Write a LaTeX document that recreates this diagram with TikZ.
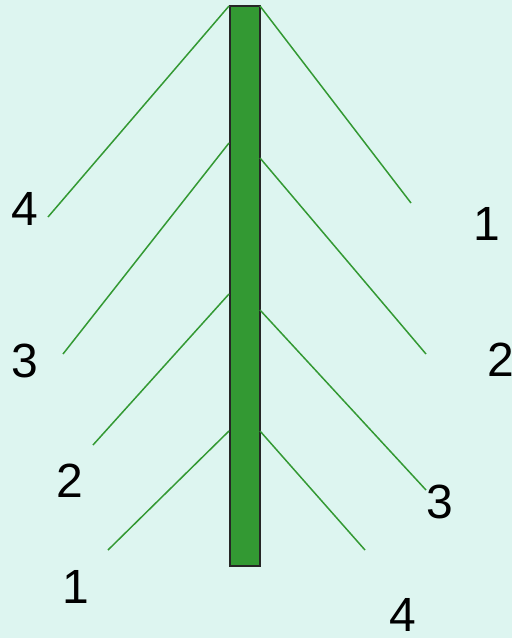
\documentclass[tikz,border=0pt]{standalone}
\usepackage{fontspec}
\setmainfont{Liberation Sans}
\definecolor{bgc}{HTML}{DDF5F0}
\definecolor{grn}{HTML}{339933}
\tikzset{
  branch/.style={draw=grn, line width=1.5pt},
  num/.style={inner sep=0pt, font=\fontsize{48}{48}\selectfont, text=black},
}
\begin{document}
\begin{tikzpicture}[x=1pt,y=-1pt]
\fill[bgc] (0,0) rectangle (512,638);
\useasboundingbox (0,0) rectangle (512,638);
% trunk
\node[draw=black!85, line width=2pt, fill=grn, minimum width=30pt, minimum height=560pt, inner sep=0pt] (trunk) at (244.5,286) {};
% junction coordinates
\coordinate (L0) at (229,6);
\coordinate (L1) at (229,143);
\coordinate (L2) at (229,294);
\coordinate (L3) at (229,431);
\coordinate (R0) at (260,6);
\coordinate (R1) at (260,158);
\coordinate (R2) at (260,310);
\coordinate (R3) at (260,431);
% branch ends
\coordinate (lE0) at (48,217);
\coordinate (lE1) at (63,354);
\coordinate (lE2) at (93,445);
\coordinate (lE3) at (108,550);
\coordinate (rE0) at (411,203);
\coordinate (rE1) at (426,354);
\coordinate (rE2) at (426,490);
\coordinate (rE3) at (365,550);
\draw[branch] (L0) -- (lE0);
\draw[branch] (L1) -- (lE1);
\draw[branch] (L2) -- (lE2);
\draw[branch] (L3) -- (lE3);
\draw[branch] (R0) -- (rE0);
\draw[branch] (R1) -- (rE1);
\draw[branch] (R2) -- (rE2);
\draw[branch] (R3) -- (rE3);
% labels
\node[num] (l4) at (25,209) {4};
\node[num] (l3) at (25,361) {3};
\node[num] (l2) at (70,481) {2};
\node[num] (l1) at (76,587) {1};
\node[num] (r1) at (487,224) {1};
\node[num] (r2) at (501,360) {2};
\node[num] (r3) at (440,502) {3};
\node[num] (r4) at (403,615) {4};
\end{tikzpicture}
\end{document}
